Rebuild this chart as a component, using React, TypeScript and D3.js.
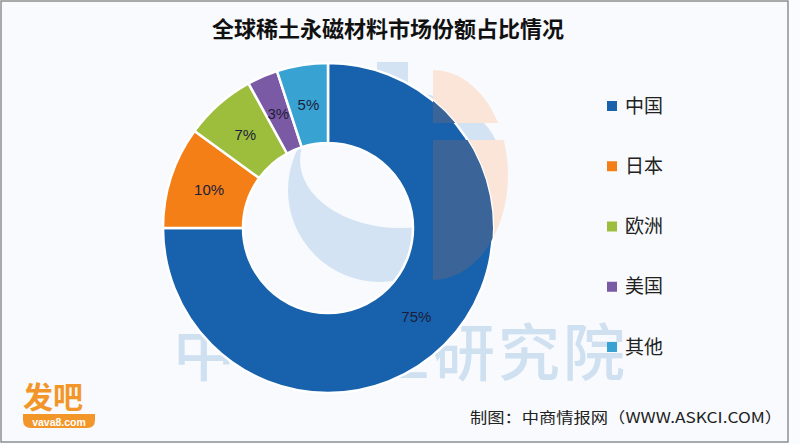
import * as d3 from "d3"

const regions = ["中国", "日本", "欧洲", "美国", "其他"]
const shares = [75, 10, 7, 3, 5]
const colors = ["#1862ad", "#f57f17", "#9dbd3d", "#7b5aa5", "#38a3d3"]

// background watermark characters (index in "中商产业研究院"), hidden ones left out
const watermark = [
  { ch: "中", i: 0 },
  { ch: "业", i: 3 },
  { ch: "研", i: 4 },
  { ch: "究", i: 5 },
  { ch: "院", i: 6 },
]

const W = 800
const H = 444
const cx = 328
const cy = 228
const outerR = 165
const innerR = 85

export default function App() {
  const pie = d3
    .pie<number>()
    .sort(null)
    .value((d) => d)
    .startAngle(0)
    .endAngle(Math.PI * 2)
  const arcs = pie(shares)
  const arc = d3.arc<d3.PieArcDatum<number>>().innerRadius(innerR).outerRadius(outerR)

  // legend placement
  const legendY = d3.scalePoint<string>().domain(regions).range([106, 347])

  const font = "'Noto Sans CJK SC', 'Noto Sans', sans-serif"

  // watermark logo shapes
  const peach = `M433,70 A75,105 0 0 1 433,280 Z`
  const crescent =
    `M472,190 A92,92 0 1 1 288,190 A92,92 0 1 1 472,190 Z ` +
    `M500,160 A100,68 0 1 0 300,160 A100,68 0 1 0 500,160 Z`

  return (
    <svg
      width={W}
      height={H}
      style={{ position: "absolute", left: 0, top: 0, display: "block" }}
      fontFamily={font}
    >
      <defs>
        <clipPath id="chinaClip">
          <path d={arc(arcs[0]) || ""} transform={`translate(${cx},${cy})`} />
        </clipPath>
        <clipPath id="peachGap">
          <rect x={0} y={0} width={W} height={123} />
          <rect x={0} y={140} width={W} height={H} />
        </clipPath>
      </defs>

      <rect x={0} y={0} width={W} height={H} fill="#fafcff" />
      <rect x={1} y={1} width={787} height={441} fill="#f8fafd" stroke="#8e8e8e" strokeWidth={1.5} />

      {/* watermark */}
      {watermark.map((w) => (
        <text key={w.ch} x={173 + w.i * 65} y={376} fontSize={62} fontWeight={500} fill="#cfe0f1">
          {w.ch}
        </text>
      ))}
      <rect x={377} y={62} width={31} height={80} fill="#d3e3f3" />
      <path d={crescent} fill="#d3e3f3" fillRule="evenodd" />
      <path d={peach} fill="#fbe5d8" clipPath="url(#peachGap)" />

      {/* donut */}
      <g transform={`translate(${cx},${cy})`}>
        {arcs.map((a, i) => (
          <path key={regions[i]} d={arc(a) || ""} fill={colors[i]} stroke="#ffffff" strokeWidth={2.5} />
        ))}
      </g>

      {/* logo tint over the ring */}
      <g clipPath="url(#chinaClip)">
        <path d={peach} fill="#3b6598" clipPath="url(#peachGap)" />
      </g>

      <g transform={`translate(${cx},${cy})`}>
        {arcs.map((a, i) => {
          const [x, y] = arc.centroid(a)
          return (
            <text
              key={regions[i]}
              x={x}
              y={y}
              dy="0.35em"
              textAnchor="middle"
              fontSize={15}
              fontFamily="'Liberation Sans', Arial, sans-serif"
              fill="#1b1d3a"
            >
              {shares[i]}%
            </text>
          )
        })}
      </g>

      {/* title */}
      <text x={388} y={37} textAnchor="middle" fontSize={22} fontWeight={700} fill="#111111">
        全球稀土永磁材料市场份额占比情况
      </text>

      {/* legend */}
      {regions.map((r, i) => (
        <g key={r} transform={`translate(607,${legendY(r)})`}>
          <rect x={0} y={-5} width={10} height={10} fill={colors[i]} />
          <text x={18} y={0} dy="0.35em" fontSize={19} fill="#222222">
            {r}
          </text>
        </g>
      ))}

      {/* source */}
      <text x={470} y={423} fontSize={15} fill="#222222" textLength={312} lengthAdjust="spacingAndGlyphs">
        制图：中商情报网（WWW.ASKCI.COM）
      </text>

      {/* vava8 badge */}
      <text x={23} y={408} fontSize={30} fontWeight={700} fill="#f3962a">
        发吧
      </text>
      <path d="M23,414 H95 V420 Q95,428 87,428 H31 Q23,428 23,420 Z" fill="#f3962a" />
      <text
        x={59}
        y={425.5}
        textAnchor="middle"
        fontSize={10.5}
        fontWeight={700}
        fill="#ffffff"
        fontFamily="'Liberation Sans', Arial, sans-serif"
      >
        vava8.com
      </text>
    </svg>
  )
}
